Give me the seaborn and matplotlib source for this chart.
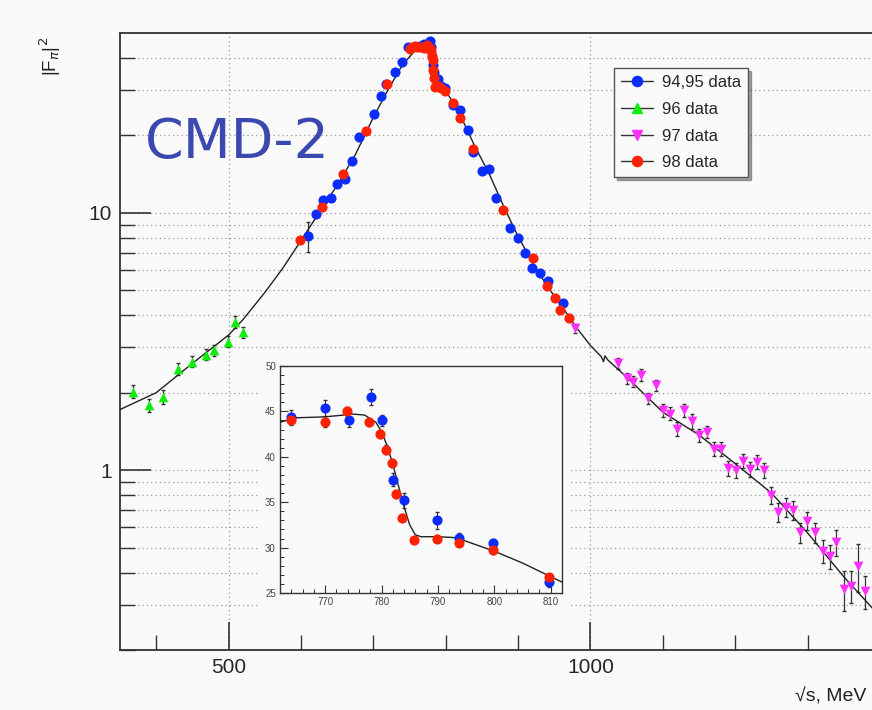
import numpy as np
import pandas as pd
import matplotlib
matplotlib.use('Agg')
import matplotlib.pyplot as plt
import seaborn as sns
from matplotlib.lines import Line2D
from matplotlib.patches import Rectangle
from matplotlib.ticker import FixedLocator, MultipleLocator, NullFormatter, FixedFormatter

# ---- data ----
blue_x = [610, 621, 631, 641, 650, 661, 670, 680, 701, 710, 718, 730, 739, 748,
          764, 770, 774.2, 778.1, 780.1, 782.1, 784, 789.8, 793.8, 799.7, 809.7,
          819.6, 831, 838, 849.6, 860, 869.3, 888.7, 900, 909.4, 918.6, 930, 941.6, 962.3]
blue_y = [8.13, 9.9, 11.2, 11.4, 12.9, 13.5, 15.9, 19.8, 24.3, 28.4, 31.8, 35.3, 38.7, 44.0,
          44.4, 45.4, 44.1, 46.6, 44.0, 37.5, 35.2, 33.0, 31.1, 30.5, 26.2,
          25.0, 20.9, 17.2, 14.6, 14.8, 11.4, 8.77, 8.02, 7.0, 6.11, 5.85, 5.42, 4.46]
blue_err = [1.1, 0.3, 0.3, 0.3, 0.3, 0.35, 0.4, 0.45, 0.5, 0.55, 0.6, 0.6, 0.65, 0.7,
            0.7, 0.9, 0.8, 0.9, 0.6, 0.7, 0.8, 0.9, 0.5, 0.5, 0.5,
            0.45, 0.4, 0.35, 0.3, 0.3, 0.25, 0.2, 0.18, 0.16, 0.14, 0.13, 0.12, 0.1]

red_x = [598.6, 628.6, 658.5, 689.8, 719.2, 750, 754, 758, 761, 764, 770, 773.8, 777.7,
         779.7, 780.8, 781.9, 782.6, 783.6, 785.7, 789.8, 793.7, 799.7, 809.7, 819.6,
         838, 879.4, 920.9, 939.4, 950.8, 957.7, 970.6]
red_y = [7.82, 10.5, 14.2, 20.8, 31.6, 43.5, 44.0, 44.5, 44.2, 44.0, 43.8, 45.0, 43.8,
         42.5, 40.8, 39.3, 35.9, 33.3, 30.8, 31.0, 30.5, 29.7, 26.8, 23.4,
         17.7, 10.3, 6.69, 5.19, 4.67, 4.21, 3.90]
red_err = [0.15, 0.2, 0.25, 0.35, 0.45, 0.5, 0.5, 0.5, 0.5, 0.5, 0.5, 0.5, 0.45,
           0.45, 0.45, 0.45, 0.4, 0.4, 0.4, 0.4, 0.35, 0.35, 0.3, 0.3,
           0.25, 0.15, 0.1, 0.08, 0.08, 0.07, 0.07]

green_x = [368.4, 390, 409, 429.7, 449, 468.8, 480.3, 498.7, 508.8, 519.5]
green_y = [2.02, 1.79, 1.93, 2.47, 2.64, 2.81, 2.92, 3.16, 3.76, 3.43]
green_err = [0.12, 0.1, 0.12, 0.13, 0.13, 0.14, 0.14, 0.16, 0.2, 0.17]

magenta_x = [978.5, 1038, 1050, 1059, 1069.6, 1079.7, 1090, 1100.5, 1109.7, 1118.9, 1129.4,
             1140.5, 1150, 1160.3, 1170.4, 1180, 1190.2, 1200.8, 1211, 1220, 1229.4, 1239.5,
             1250, 1259.3, 1270.8, 1280, 1289.2, 1299.3, 1310, 1321.4, 1330.7, 1339.9,
             1350, 1360.6, 1369.8, 1379]
magenta_y = [3.56, 2.60, 2.28, 2.21, 2.35, 1.90, 2.14, 1.71, 1.66, 1.45, 1.71,
             1.55, 1.37, 1.41, 1.21, 1.21, 1.02, 1.00, 1.09, 1.01, 1.08, 1.00,
             0.80, 0.686, 0.717, 0.70, 0.573, 0.637, 0.573, 0.486, 0.464, 0.524,
             0.344, 0.355, 0.425, 0.339]
magenta_err = [0.15, 0.12, 0.11, 0.11, 0.12, 0.1, 0.11, 0.1, 0.1, 0.09, 0.1,
               0.1, 0.08, 0.08, 0.08, 0.08, 0.07, 0.07, 0.07, 0.07, 0.07, 0.07,
               0.06, 0.06, 0.06, 0.06, 0.05, 0.05, 0.05, 0.05, 0.05, 0.06,
               0.06, 0.05, 0.09, 0.05]

# fit curve, points
fit_x = [350, 400, 450, 500, 520, 550, 575, 600, 625, 650, 675, 700, 720, 740, 760, 765, 770,
         775, 777, 779, 780, 781, 782, 783, 784, 785, 786, 787, 790, 793, 795, 800, 805, 810,
         812, 820, 840, 860, 880, 900, 920, 940, 960, 980, 1000, 1015, 1018, 1020, 1024,
         1050, 1100, 1150, 1200, 1250, 1300, 1350, 1400]
fit_y = [1.72, 2.0, 2.6, 3.35, 3.85, 4.9, 6.1, 7.8, 10.0, 12.8, 16.8, 23.5, 30.0, 37.5, 43.5, 44.3, 44.4,
         44.7, 44.6, 43.8, 42.8, 41.2, 39.2, 36.8, 34.5, 32.5, 31.4, 31.2, 31.2, 31.1, 30.7, 29.6, 28.3, 26.8,
         26.2, 24.0, 18.2, 14.2, 10.6, 8.1, 6.4, 5.2, 4.35, 3.6, 3.05, 2.76, 2.64, 2.78, 2.68,
         2.3, 1.68, 1.37, 1.06, 0.815, 0.57, 0.385, 0.27]

series = [
    ('94,95 data', blue_x, blue_y, blue_err, '#0a2cff', 'o', 7.3),
    ('96 data', green_x, green_y, green_err, '#10ee10', '^', 7),
    ('97 data', magenta_x, magenta_y, magenta_err, '#ff30ff', 'v', 7),
    ('98 data', red_x, red_y, red_err, '#ff2200', 'o', 7.3),
]

sns.set_style('ticks')
plt.rcParams['font.family'] = ['Liberation Sans', 'DejaVu Sans']
bg = '#fafafa'

fig = plt.figure(figsize=(8.72, 7.10), dpi=100, facecolor=bg)
ax = fig.add_axes([120/872, 1-650/710, 760/872, 617/710])
ax.set_facecolor(bg)

fit_df = pd.DataFrame({'x': fit_x, 'y': fit_y})
sns.lineplot(data=fit_df, x='x', y='y', ax=ax, color='#222222', lw=1.0,
             sort=False, estimator=None, zorder=4)
for name, xs, ys, es, col, mk, ms in series:
    ax.errorbar(xs, ys, yerr=es, fmt='none', ecolor='#333333', elinewidth=0.9,
                capsize=1.5, zorder=3)
    sns.scatterplot(x=xs, y=ys, ax=ax, color=col, marker=mk, s=ms**2,
                    edgecolor=col, linewidth=0, zorder=5)

ax.set_yscale('log')
ax.set_xlim(350, 1400)
ax.set_ylim(0.2, 50)

ymaj = [1, 10]
ymin = [0.2, 0.3, 0.4, 0.5, 0.6, 0.7, 0.8, 0.9, 2, 3, 4, 5, 6, 7, 8, 9, 20, 30, 40]
ax.yaxis.set_major_locator(FixedLocator(ymaj))
ax.yaxis.set_major_formatter(FixedFormatter(['1', '10']))
ax.yaxis.set_minor_locator(FixedLocator(ymin))
ax.yaxis.set_minor_formatter(NullFormatter())
ax.xaxis.set_major_locator(FixedLocator([500, 1000]))
ax.xaxis.set_minor_locator(FixedLocator([400, 600, 700, 800, 900, 1100, 1200, 1300]))
ax.tick_params(which='major', direction='in', length=22, width=1.2, labelsize=15,
               pad=6, color='#333333')
ax.tick_params(axis='x', which='major', length=20)
ax.tick_params(which='minor', direction='in', length=11, width=1.0, color='#333333')
ax.grid(True, axis='x', which='major', ls=(0, (1, 2.5)), color='#999999', lw=0.9)
ax.grid(True, axis='y', which='both', ls=(0, (1, 2.5)), color='#999999', lw=0.9)
for s in ax.spines.values():
    s.set_color('#333333')
    s.set_linewidth(1.3)
ax.set_xlabel('')
ax.set_ylabel('')

fig.text(50/872, 1-56/710, '|F$_\\pi$|$^2$', rotation=90, ha='center', va='center',
         fontsize=13.5, color='#222222')
fig.text(795/872, 1-697/710, '√s, MeV', ha='left', va='center', fontsize=14, color='#222222')
fig.text(145/872, 1-158/710, 'CMD-2', ha='left', va='baseline', fontsize=40,
         color='#3a48b0', family=['DejaVu Sans'])

handles = [Line2D([0], [0], color='#333333', lw=1.0, marker=mk, ms=ms, mfc=col, mec=col)
           for name, xs, ys, es, col, mk, ms in series]
leg = ax.legend(handles, [s[0] for s in series], loc='upper left',
                bbox_to_anchor=(0.65, 0.943), fontsize=12, frameon=True, fancybox=False,
                shadow=True, handlelength=1.9, labelspacing=0.7, borderpad=0.42,
                handletextpad=0.55, borderaxespad=0)
leg.get_frame().set_edgecolor('#555555')
leg.get_frame().set_facecolor(bg)
leg.get_frame().set_linewidth(1.0)

# inset pad covering the main grid
fig.patches.append(Rectangle((258/872, 1-615/710), 312/872, 252/710, transform=fig.transFigure,
                             facecolor=bg, edgecolor='none', zorder=1))
axi = fig.add_axes([280/872, 1-593/710, 282/872, 227/710])
axi.set_zorder(3)
axi.set_facecolor(bg)
sns.lineplot(data=fit_df, x='x', y='y', ax=axi, color='#222222', lw=1.0,
             sort=False, estimator=None, zorder=4)
for name, xs, ys, es, col, mk, ms in series:
    axi.errorbar(xs, ys, yerr=es, fmt='none', ecolor='#333333', elinewidth=0.8,
                 capsize=1.5, zorder=3)
    sns.scatterplot(x=xs, y=ys, ax=axi, color=col, marker=mk, s=ms**2,
                    edgecolor=col, linewidth=0, zorder=5)
axi.set_xlim(762, 812)
axi.set_ylim(25, 50)
axi.xaxis.set_major_locator(MultipleLocator(10))
axi.xaxis.set_minor_locator(MultipleLocator(2))
axi.yaxis.set_major_locator(MultipleLocator(5))
axi.yaxis.set_minor_locator(MultipleLocator(1))
axi.tick_params(which='major', direction='in', length=6, width=0.8, labelsize=7,
                pad=3, color='#333333', labelcolor='#444444')
axi.tick_params(which='minor', direction='in', length=3, width=0.7, color='#333333')
for s in axi.spines.values():
    s.set_color('#333333')
    s.set_linewidth(1.0)
axi.set_xlabel('')
axi.set_ylabel('')

fig.savefig('out.png', dpi=100, facecolor=bg)
